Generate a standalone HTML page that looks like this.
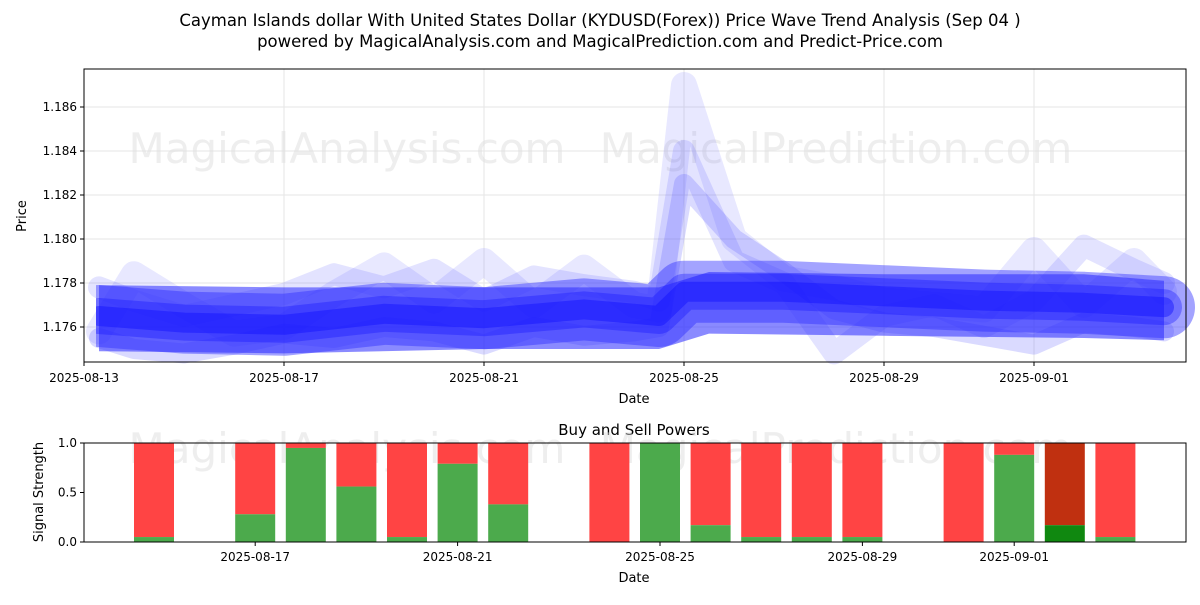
<!DOCTYPE html>
<html><head><meta charset="utf-8"><style>
body{margin:0;background:#fff;font-family:"Liberation Sans","DejaVu Sans",sans-serif}
svg text{font-family:"DejaVu Sans","Liberation Sans",sans-serif}
</style></head><body>
<svg id="c" width="1200" height="600" xmlns="http://www.w3.org/2000/svg">
<defs><clipPath id="clipL"><rect x="96" y="60" width="1104" height="320"/></clipPath></defs>
<text x="600" y="26" text-anchor="middle" font-size="16.5">Cayman Islands dollar With United States Dollar (KYDUSD(Forex)) Price Wave Trend Analysis (Sep 04 )</text>
<text x="600" y="47" text-anchor="middle" font-size="16.5">powered by MagicalAnalysis.com and MagicalPrediction.com and Predict-Price.com</text>
<g id="topg"></g>
<g id="botg"></g>
</svg>
<script>
const NS="http://www.w3.org/2000/svg";
const xTickLabels=["2025-08-13","2025-08-17","2025-08-21","2025-08-25","2025-08-29","2025-09-01"];
const xTickDays=[0,4,8,12,16,19];
const yTicks=[1.176,1.178,1.180,1.182,1.184,1.186];
const centerDays=[0.3,2,4,6,8,10,11.5,12,14,16,18,20,21.6];
const centerVals=[1.1765,1.1762,1.1761,1.1766,1.1764,1.1768,1.1765,1.1776,1.1776,1.1774,1.1772,1.1771,1.1769];
const bandDays=[0.3,4,8,11.5,12.5,16,20,21.6];
const bandUpper=[1.1779,1.1778,1.1778,1.1778,1.1785,1.1784,1.1784,1.1781];
const bandLower=[1.1749,1.1748,1.1750,1.1750,1.1757,1.1756,1.1755,1.1754];
const waveDays=[0.3,1,2,3,4,5,6,7,8,9,10,11,11.5,12,13,14,15,16,17,18,19,20,21,21.6];
const wave1=[1.1758,1.1784,1.1770,1.1757,1.1760,1.1775,1.1788,1.1772,1.1790,1.1770,1.1787,1.1770,1.1768,1.1870,1.1800,1.1782,1.1778,1.1772,1.1770,1.1768,1.1795,1.1770,1.1790,1.1776];
const wave2=[1.1778,1.1772,1.1765,1.1770,1.1775,1.1784,1.1778,1.1786,1.1772,1.1783,1.1779,1.1776,1.1772,1.1840,1.1790,1.1780,1.1748,1.1765,1.1770,1.1760,1.1772,1.1797,1.1786,1.1780];
const wave3=[1.1755,1.1750,1.1748,1.1752,1.1757,1.1755,1.1760,1.1758,1.1752,1.1760,1.1756,1.1758,1.1760,1.1825,1.1800,1.1785,1.1768,1.1762,1.1760,1.1756,1.1752,1.1762,1.1760,1.1758];
const barDays=[2,4,5,6,7,8,9,11,12,13,14,15,16,18,19,20,21];
const buyVals=[0.05,0.28,0.95,0.56,0.05,0.79,0.38,0,1.0,0.17,0.05,0.05,0.05,0,0.88,0.17,0.05];
const bTickLabels=["2025-08-17","2025-08-21","2025-08-25","2025-08-29","2025-09-01"];
const bTickDays=[4,8,12,16,19];
const bYTicks=[0,0.5,1];

const X=d=>84+d*50, Y=v=>327-(v-1.176)*22000;
const BX=d=>154+(d-2)*50.6, BY=v=>542-v*99;
function el(t,a,p){const e=document.createElementNS(NS,t);for(const k in a)e.setAttribute(k,a[k]);p.appendChild(e);return e;}
const topG=document.getElementById('topg'), botG=document.getElementById('botg');
xTickDays.forEach((d,i)=>{
 const g=el('line',{x1:X(d),x2:X(d),y1:69,y2:362,stroke:'#e6e6e6'},topG);
 
 el('line',{x1:X(d),x2:X(d),y1:362,y2:366,stroke:'#000'},topG);
 const t=el('text',{x:X(d),y:382,'text-anchor':'middle','font-size':12},topG);t.textContent=xTickLabels[i];
 
});
yTicks.forEach(v=>{
 el('line',{x1:84,x2:1186,y1:Y(v),y2:Y(v),stroke:'#e6e6e6'},topG);
 el('line',{x1:80,x2:84,y1:Y(v),y2:Y(v),stroke:'#000'},topG);
 const t=el('text',{x:77,y:Y(v)+4,'text-anchor':'end','font-size':12},topG);t.textContent=v.toFixed(3);
 
});
const wm=el('text',{x:347,y:163,'text-anchor':'middle','font-size':42,fill:'#ddd','fill-opacity':0.5},topG);wm.textContent='MagicalAnalysis.com';

const wm2=el('text',{x:836,y:163,'text-anchor':'middle','font-size':42,fill:'#ddd','fill-opacity':0.5},topG);wm2.textContent='MagicalPrediction.com';

const pts=(ds,vs)=>ds.map((d,i)=>X(d)+','+Y(vs[i])).join(' ');
[[wave1,26,0.12],[wave2,22,0.15],[wave3,20,0.2]].forEach(([w,sw,op])=>{
 const l=el('polyline',{points:pts(waveDays,w),fill:'none',stroke:'#4444ff','stroke-width':sw,'stroke-opacity':op,'stroke-linejoin':'round','stroke-linecap':'round'},topG);
 
});
const fat=el('polyline',{points:pts(centerDays,centerVals),fill:'none',stroke:'#3333ff','stroke-width':62,'stroke-opacity':0.45,'stroke-linejoin':'round','stroke-linecap':'round','clip-path':'url(#clipL)'},topG);

const bp=bandDays.map((d,i)=>X(d)+','+Y(bandUpper[i])).concat(bandDays.slice().reverse().map((d,i)=>X(d)+','+Y(bandLower[bandDays.length-1-i]))).join(' ');
const band=el('polygon',{points:bp,fill:'#2a2aff','fill-opacity':0.55},topG);

[[36,0.35],[20,0.45]].forEach(([sw,op])=>{
 const l=el('polyline',{points:pts(centerDays,centerVals),fill:'none',stroke:'#1010ff','stroke-width':sw,'stroke-opacity':op,'stroke-linejoin':'round','stroke-linecap':'round','clip-path':'url(#clipL)'},topG);
 
});
el('rect',{x:84,y:69,width:1102,height:293,fill:'none',stroke:'#000'},topG);
let t=el('text',{x:634,y:403,'text-anchor':'middle','font-size':13},topG);t.textContent='Date';

t=el('text',{x:26,y:216,'text-anchor':'middle','font-size':13,transform:'rotate(-90 26 216)'},topG);t.textContent='Price';


t=el('text',{x:634,y:435,'text-anchor':'middle','font-size':15},botG);t.textContent='Buy and Sell Powers';

const wm3=el('text',{x:347,y:463,'text-anchor':'middle','font-size':42,fill:'#ddd','fill-opacity':0.5},botG);wm3.textContent='MagicalAnalysis.com';

const wm4=el('text',{x:836,y:463,'text-anchor':'middle','font-size':42,fill:'#ddd','fill-opacity':0.5},botG);wm4.textContent='MagicalPrediction.com';

barDays.forEach((d,i)=>{
 const v=buyVals[i], dark=(d===20);
 const s=el('rect',{x:BX(d)-20,y:BY(1),width:40,height:BY(v)-BY(1),fill:dark?'#c03010':'#ff4444'},botG);
 
 const b=el('rect',{x:BX(d)-20,y:BY(v),width:40,height:BY(0)-BY(v),fill:dark?'#108810':'#4caa4c'},botG);
 
});
el('rect',{x:84,y:443,width:1102,height:99,fill:'none',stroke:'#000'},botG);
bTickDays.forEach((d,i)=>{
 el('line',{x1:BX(d),x2:BX(d),y1:542,y2:546,stroke:'#000'},botG);
 const tt=el('text',{x:BX(d),y:561,'text-anchor':'middle','font-size':12},botG);tt.textContent=bTickLabels[i];
 
});
bYTicks.forEach(v=>{
 el('line',{x1:80,x2:84,y1:BY(v),y2:BY(v),stroke:'#000'},botG);
 const tt=el('text',{x:77,y:BY(v)+4,'text-anchor':'end','font-size':12},botG);tt.textContent=v.toFixed(1);
 
});
t=el('text',{x:634,y:582,'text-anchor':'middle','font-size':13},botG);t.textContent='Date';

t=el('text',{x:43,y:492,'text-anchor':'middle','font-size':13,transform:'rotate(-90 43 492)'},botG);t.textContent='Signal Strength';

</script>
</body></html>
